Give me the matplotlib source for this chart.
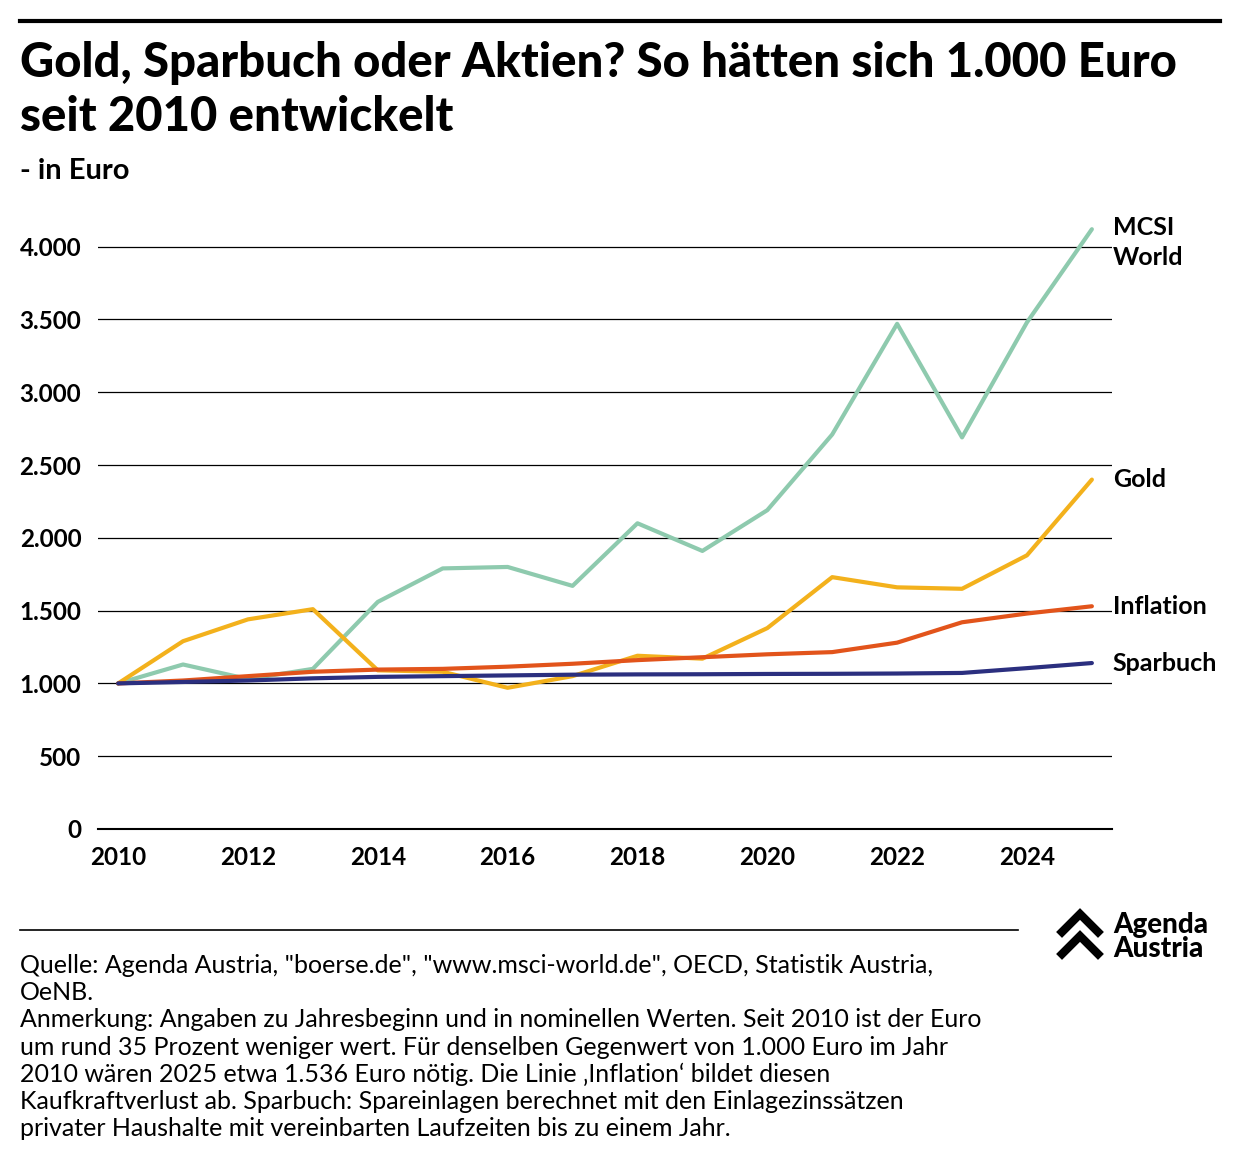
import matplotlib
matplotlib.use("Agg")
import matplotlib.pyplot as plt
from matplotlib.lines import Line2D

plt.rcParams['font.family'] = ['Lato', 'DejaVu Sans']

years = list(range(2010, 2026))
msci = [1000, 1130, 1030, 1100, 1560, 1790, 1800, 1670, 2100, 1910, 2190, 2710, 3470, 2690, 3480, 4120]
gold = [1000, 1290, 1440, 1510, 1090, 1080, 970, 1050, 1190, 1170, 1380, 1730, 1660, 1650, 1880, 2400]
inflation = [1000, 1020, 1050, 1080, 1095, 1100, 1115, 1135, 1160, 1180, 1200, 1215, 1280, 1420, 1480, 1530]
sparbuch = [1000, 1010, 1020, 1035, 1045, 1050, 1055, 1060, 1062, 1063, 1065, 1066, 1068, 1072, 1105, 1140]

series = [
    ("MCSI\nWorld", msci, "#8ecaae"),
    ("Gold", gold, "#f3b11c"),
    ("Inflation", inflation, "#e2541b"),
    ("Sparbuch", sparbuch, "#2b2f7f"),
]

W, H = 1240, 1168
fig = plt.figure(figsize=(W / 100, H / 100), dpi=100)
ax = fig.add_axes([98 / W, 1 - 829 / H, (1112 - 98) / W, (829 - 203) / H])

for name, vals, col in series:
    y = vals[-1] + (-90 if name.startswith("MCSI") else 0)
    ax.text(2025.32, y, name, fontsize=18, fontweight='bold', va='center',
            ha='left', linespacing=1.4)
    ax.plot(years, vals, color=col, lw=3, solid_capstyle='round', zorder=3)

ax.set_xlim(2009.69, 2025.31)
ax.set_ylim(0, 4300)
ax.set_yticks(range(0, 4001, 500))
ax.set_yticklabels([f"{v:,}".replace(",", ".") for v in range(0, 4001, 500)])
ax.set_xticks(range(2010, 2025, 2))
ax.grid(axis='y', color='black', lw=0.9)
ax.set_axisbelow(True)
for s in ['top', 'right', 'left']:
    ax.spines[s].set_visible(False)
ax.spines['bottom'].set_linewidth(1.5)
ax.tick_params(axis='y', length=0, labelsize=17.5, pad=12)
ax.tick_params(axis='x', length=0, labelsize=17.5, pad=12)
for t in ax.get_yticklabels() + ax.get_xticklabels():
    t.set_fontweight('bold')

fig.add_artist(Line2D([20 / W, 1220 / W], [1 - 21 / H] * 2, color='black', lw=3))
fig.text(20 / W, 1 - 63 / H, "Gold, Sparbuch oder Aktien? So hätten sich 1.000 Euro",
         fontsize=34, fontweight='black', va='center')
fig.text(20 / W, 1 - 117 / H, "seit 2010 entwickelt",
         fontsize=34, fontweight='black', va='center')
fig.text(20 / W, 1 - 171 / H, "- in Euro", fontsize=21, fontweight='bold', va='center')

fig.add_artist(Line2D([20 / W, 1018 / W], [1 - 930 / H] * 2, color='black', lw=1.2))
foot = ('Quelle: Agenda Austria, "boerse.de", "www.msci-world.de", OECD, Statistik Austria,\n'
        'OeNB.\n'
        'Anmerkung: Angaben zu Jahresbeginn und in nominellen Werten. Seit 2010 ist der Euro\n'
        'um rund 35 Prozent weniger wert. Für denselben Gegenwert von 1.000 Euro im Jahr\n'
        '2010 wären 2025 etwa 1.536 Euro nötig. Die Linie ‚Inflation‘ bildet diesen\n'
        'Kaufkraftverlust ab. Sparbuch: Spareinlagen berechnet mit den Einlagezinssätzen\n'
        'privater Haushalte mit vereinbarten Laufzeiten bis zu einem Jahr.')
fig.text(20 / W, 1 - 954 / H, foot, fontsize=18, va='top', linespacing=1.22)

# logo
for dy in (0, 22):
    xs = [1062 / W, 1080 / W, 1098 / W]
    ys = [1 - (932 + dy) / H, 1 - (914 + dy) / H, 1 - (932 + dy) / H]
    fig.add_artist(Line2D(xs, ys, color='black', lw=6, solid_joinstyle='miter'))
fig.text(1113 / W, 1 - 937 / H, "Agenda\nAustria", fontsize=20, fontweight='black',
         va='center', linespacing=0.9)

fig.savefig("out.png", dpi=100, facecolor='white')
